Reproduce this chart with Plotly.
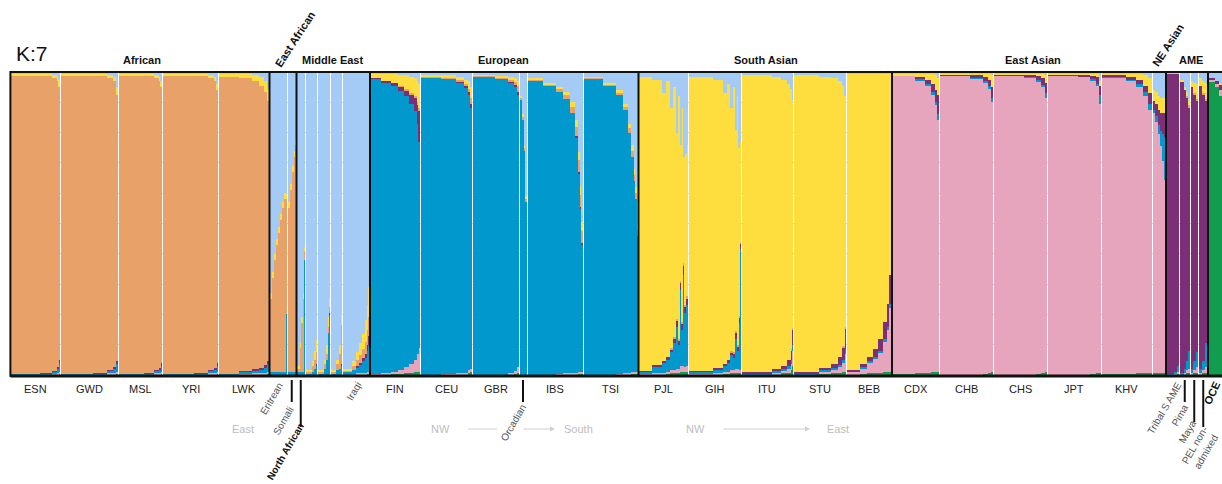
import plotly.graph_objects as go

# ---------------- data ----------------
# component order (bottom -> top of each stacked column)
COMPONENTS = ["OCE", "East Asian", "European", "AME", "African", "South Asian", "Middle East"]
COLORS = ["#129c50", "#e7a4bd", "#0198cd", "#7c2e76", "#e9a16a", "#fedd3f", "#a4cbf6"]

# each row: (individuals, OCE, EastAsian, European, AME, African, SouthAsian, MiddleEast) in %
ESN = [(58, 0, 0, 0.3, 0, 98.7, 0.5, 0.5), (24, 0, 0, 0.5, 0.3, 98, 0.6, 0.6), (9, 0, 0.3, 0.8, 0.3, 96.6, 1, 1),
       (4, 0.3, 0.3, 1.5, 0.4, 94.5, 1.5, 1.5), (3, 0.5, 0.5, 3, 1, 90, 2.5, 2.5)]
GWD = [(64, 0, 0, 0.3, 0, 98.7, 0.5, 0.5), (28, 0, 0, 0.5, 0.3, 98, 0.6, 0.6), (12, 0.3, 0.3, 0.8, 0.3, 96.3, 1, 1),
       (6, 0.3, 0.3, 1.5, 0.4, 94.5, 1.5, 1.5), (4, 0.5, 0.5, 2.5, 1, 88, 2.5, 5)]
MSL = [(50, 0, 0, 0.3, 0, 98.7, 0.5, 0.5), (20, 0, 0, 0.5, 0.3, 98, 0.6, 0.6), (9, 0.3, 0.3, 0.8, 0.3, 96.3, 1, 1),
       (4, 0.3, 0.3, 1.2, 0.4, 94.8, 1.5, 1.5), (3, 0.5, 0.5, 2, 1, 91, 2, 3)]
YRI = [(62, 0, 0, 0.3, 0, 98.7, 0.5, 0.5), (27, 0, 0, 0.5, 0.3, 98, 0.6, 0.6), (12, 0.3, 0.3, 0.8, 0.3, 96.3, 1, 1),
       (6, 0.3, 0.3, 1.2, 0.4, 94.8, 1.5, 1.5), (3, 0.5, 0.5, 2, 1, 90, 2, 4)]
LWK = [(40, 0, 0, 0.3, 0, 98.2, 1, 0.5), (25, 0, 0.3, 0.7, 0.3, 96.7, 1.5, 0.5), (15, 0.3, 0.3, 1, 0.4, 95, 2, 1),
       (10, 0.3, 0.3, 1.3, 0.5, 93.1, 3, 1.5), (6, 0.3, 0.5, 1.8, 0.6, 90.3, 3.5, 3), (4, 0.5, 0.5, 2.5, 1, 86, 4, 5.5)]
ERITREAN = [(4, 0, 0, 1, 0, 24, 2, 73), (4, 0, 0, 1, 0, 31, 2, 66), (4, 0, 0, 1, 0, 37, 2, 60),
            (4, 0, 0, 1, 0, 42, 2, 55), (4, 0, 0, 1, 0, 46, 2, 51), (4, 0, 0, 1, 0, 50, 2, 47),
            (4, 0, 0, 1, 0, 54, 2, 43), (3, 0, 0, 1, 0, 57, 2, 40), (2, 0, 0, 20, 0, 38, 2, 40)]
SOMALI = [(4, 0, 0, 1, 0, 54, 2, 43), (4, 0, 0, 1, 0, 60, 2, 37), (4, 0, 0, 1, 0, 66, 2, 31),
          (3, 0, 0, 1, 0, 71, 2, 26), (2, 0, 0, 1, 0, 75, 2, 22)]
NORTH_AFRICAN = [(5, 0, 0, 1, 0, 1, 1, 97), (3, 0, 0, 1, 0, 8, 1.5, 89.5), (3, 0, 0, 1, 0, 16, 2, 81),
                 (2, 0, 0, 1, 0, 24, 2, 73), (1, 0, 0, 1, 0, 30, 2, 67), (1, 0, 0, 38, 0, 3, 1, 58)]
MIDEAST_2 = [(12, 0, 0, 0.5, 0, 0.5, 0.5, 98.5), (5, 0, 0, 1, 0, 2, 1.5, 95.5), (3, 0, 0, 2, 0, 3, 3, 92),
             (3, 0, 0, 3, 0.5, 4, 4, 88.5)]
MIDEAST_3 = [(11, 0, 0, 0.5, 0, 0.5, 0.5, 98.5), (5, 0, 0, 2, 0, 1.5, 1.5, 95), (3, 0, 0, 5, 0, 2, 3, 90),
             (2, 0, 0, 14, 0, 2, 3, 81), (1, 0, 0, 41, 0, 1, 2, 56), (1, 0, 0, 20, 0.5, 2, 3, 74.5)]
MIDEAST_4 = [(11, 0, 0, 0.5, 0, 0.5, 0.5, 98.5), (5, 0, 0, 1.5, 0, 2, 1.5, 95), (4, 0, 0, 2, 0, 5, 3, 90),
             (3, 0, 0, 3, 0.5, 13, 4, 79.5)]
IRAQI = [(18, 0, 0, 1, 0, 0.5, 0.5, 98), (8, 0, 0, 1.5, 0, 1.5, 1.5, 95.5), (6, 0, 0.5, 2, 0.5, 2, 2.5, 92.5),
         (6, 0, 0.5, 3, 0.5, 2.5, 4, 89.5), (5, 0, 0.5, 4, 1, 3, 5, 86.5), (4, 0, 0.5, 5, 1.5, 4, 7, 82),
         (3, 0.5, 0.5, 7, 2, 5, 8, 77), (3, 0.5, 0.5, 9, 3, 6, 10, 71)]
FIN = [(20, 0, 0.3, 97.4, 0.3, 0, 1.5, 0.5), (20, 0, 0.5, 96, 0.5, 0, 2.5, 0.5), (15, 0.3, 0.7, 94.5, 1, 0, 3, 0.5),
       (12, 0.3, 1.5, 92, 1.5, 0.2, 3.5, 1), (10, 0.5, 2, 89.5, 2, 0.5, 4.5, 1), (9, 0.5, 3, 86, 3, 0.5, 5.5, 1.5),
       (6, 1, 4, 82, 4.5, 0.5, 6, 2), (4, 1, 6, 76, 6, 1, 7, 3), (3, 1, 8, 68, 10, 1, 8, 4)]
CEU = [(40, 0, 0, 98.2, 0, 0.3, 0.5, 1), (30, 0, 0.3, 97.4, 0, 0.3, 1, 1), (16, 0, 0.5, 96, 0.3, 0.5, 1.2, 1.5),
       (8, 0.3, 0.5, 94.2, 0.5, 0.5, 1.5, 2.5), (4, 0.5, 1, 91, 1, 1, 2.5, 3), (3, 1, 1, 86, 1.5, 2, 3.5, 5)]
GBR = [(45, 0, 0, 98.4, 0, 0.3, 0.3, 1), (25, 0, 0, 97.7, 0.3, 0.3, 0.5, 1.2), (12, 0, 0.5, 96, 0.3, 0.7, 1, 1.5),
       (6, 0.3, 1, 94, 0.5, 1, 1.2, 2), (4, 0.5, 2, 90, 1, 2, 1.5, 3)]
ORCADIAN = [(6, 0, 0, 91, 0, 0.5, 0.5, 8), (3, 0, 0, 84, 0, 1, 1, 14), (3, 0, 0, 74, 0, 1, 1, 24),
            (2, 0, 0, 57, 0, 1, 1, 41)]
IBS = [(31, 0, 0, 97.3, 0, 0.3, 0.4, 2), (26, 0, 0, 95.5, 0, 0.5, 0.5, 3.5), (14, 0, 0.3, 93.2, 0, 1, 0.5, 5),
       (14, 0, 0.5, 90.5, 0, 1.5, 1, 6.5), (10, 0.3, 0.5, 85.7, 0, 2, 1.5, 10), (6, 0.3, 0.5, 77.7, 0.5, 3, 2, 16),
       (5, 0.5, 0.5, 65.5, 0.5, 4, 2.5, 26.5), (2, 0.5, 0.5, 54, 0.5, 4, 3, 37.5), (2, 0.5, 0.5, 42, 0.5, 4, 3, 49.5)]
TSI = [(38, 0, 0, 98, 0, 0.3, 0.2, 1.5), (27, 0, 0, 95.5, 0, 0.5, 0.5, 3.5), (13, 0, 0.3, 92.2, 0, 0.5, 1, 6),
       (10, 0.3, 0.5, 86.7, 0, 1, 1, 10.5), (7, 0.3, 0.5, 79.2, 0, 1.5, 1.5, 17), (6, 0.5, 0.5, 71, 0, 2, 2, 24),
       (3, 0.5, 0.5, 63, 0, 2, 2, 32), (3, 0.5, 0.5, 57, 0, 2, 2, 38), (2, 0.5, 0.5, 45, 0, 2, 2, 50)]
PJL = [(26, 0, 0.3, 0.7, 0.3, 0, 97.2, 1.5), (20, 0.3, 0.5, 2, 0.5, 0, 94.2, 2.5), (8, 0.3, 0.5, 3, 0.7, 0, 88.5, 7),
       (8, 0.3, 0.7, 4, 1, 0, 91, 3), (6, 0.5, 1, 6, 1, 0.5, 79, 12), (6, 0.5, 1, 9, 1.5, 0.5, 82.5, 5),
       (4, 0.5, 1.5, 14, 2, 0.5, 61.5, 20), (4, 0.5, 1.5, 8, 1.5, 0.5, 80, 8), (3, 1, 2, 25, 2.5, 0.5, 45, 24),
       (3, 1, 2, 12, 2, 0.5, 70.5, 12), (3, 1, 2, 30, 3, 1, 35, 28), (2, 1, 1.5, 18, 2, 0.5, 59, 18),
       (2, 1, 2, 34, 3, 1, 32, 27), (2, 1, 2, 20, 2, 1, 50, 24)]
GIH = [(48, 0, 0.3, 0.7, 0.3, 0, 97.2, 1.5), (20, 0, 0.5, 1.2, 0.5, 0, 95.3, 2.5), (8, 0.3, 0.7, 2, 0.7, 0, 89.3, 7),
       (6, 0.3, 0.7, 3, 1, 0, 91, 4), (6, 0.5, 1, 5, 1, 0.5, 80, 12), (5, 0.5, 1, 4, 1.5, 0.5, 87.5, 5),
       (4, 0.5, 1.5, 10, 2, 0.5, 66.5, 19), (3, 0.5, 1.5, 6, 1.5, 0.5, 82, 8), (2, 0.5, 1.5, 15, 2, 0.5, 55.5, 25),
       (2, 0.5, 1, 40, 2, 0.5, 33, 23)]
ITU = [(60, 0, 0.3, 0.3, 0.3, 0, 98.1, 1), (19, 0.3, 0.5, 0.5, 0.7, 0, 96.5, 1.5), (12, 0.5, 0.7, 0.7, 1.2, 0, 94.4, 2.5),
       (7, 0.7, 1.2, 1, 2, 0, 91.1, 4), (3, 1.5, 2, 1.5, 3, 0.5, 86, 5.5), (2, 3, 5, 2, 5, 0.5, 75, 9.5)]
STU = [(50, 0, 0.3, 0.3, 0.3, 0, 98.1, 1), (24, 0.3, 0.7, 0.5, 0.7, 0, 96.3, 1.5), (14, 0.5, 1.2, 0.5, 1.5, 0, 94.3, 2),
       (8, 0.7, 2, 0.7, 2.5, 0, 91.1, 3), (5, 1, 3, 1, 4, 0.5, 86, 4.5), (3, 1, 6, 1.5, 7, 0.5, 76, 8)]
BEB = [(26, 0, 1, 0.3, 0.3, 0, 97.7, 0.7), (13, 0.3, 2, 0.5, 0.7, 0, 95.8, 0.7), (13, 0.5, 3.5, 0.5, 1.5, 0, 93.3, 0.7),
       (10, 0.5, 5, 0.5, 2.5, 0, 90.8, 0.7), (10, 0.5, 7, 0.5, 4, 0, 87.3, 0.7), (7, 1, 10, 1, 5.5, 0, 81.8, 0.7),
       (4, 1, 14, 1, 7.5, 0, 75.8, 0.7), (4, 1, 21, 1.5, 9.5, 0, 66.3, 0.7), (2, 1, 26, 2, 9, 0, 61.3, 0.7)]
CDX = [(45, 0.3, 98.4, 0, 0.3, 0, 0.5, 0.5), (20, 0.5, 96.8, 0.3, 0.7, 0, 1.2, 0.5), (12, 0.7, 94.8, 0.5, 1.5, 0, 2, 0.5),
       (8, 1, 91.5, 0.8, 2.7, 0, 3.5, 0.5), (5, 1, 88, 1.2, 4, 0, 4.8, 1), (3, 1, 83, 2, 6.5, 0, 5.5, 2)]
CHB = [(60, 0, 98.8, 0, 0.3, 0, 0.5, 0.4), (25, 0, 98, 0.3, 0.6, 0, 0.7, 0.4), (10, 0.3, 96.2, 0.5, 1.2, 0, 1.4, 0.4),
       (7, 0.5, 94, 0.8, 2, 0, 2.2, 0.5), (3, 1, 89, 1.5, 3.5, 0, 4, 1)]
CHS = [(60, 0, 99, 0, 0.3, 0, 0.3, 0.4), (25, 0, 98.3, 0.3, 0.6, 0, 0.4, 0.4), (10, 0.3, 96.6, 0.5, 1.2, 0, 1, 0.4),
       (8, 0.5, 94.5, 0.8, 2.2, 0, 1.5, 0.5), (3, 1, 90.5, 1.5, 3.5, 0, 2.5, 1)]
JPT = [(60, 0, 99, 0, 0.3, 0, 0.3, 0.4), (25, 0, 98.3, 0, 0.8, 0, 0.5, 0.4), (12, 0.3, 97, 0.3, 1.2, 0, 0.8, 0.4),
       (7, 0.8, 94.8, 0.5, 2.2, 0, 1.2, 0.5), (2, 0.5, 89, 3, 3, 0, 1.5, 3)]
KHV = [(48, 0.3, 98, 0.3, 0.3, 0, 0.7, 0.4), (20, 0.3, 96.8, 0.4, 0.8, 0, 1.3, 0.4), (14, 0.5, 94.7, 0.8, 1.3, 0, 2.2, 0.5),
       (10, 0.5, 91.5, 1.3, 2.2, 0, 3.5, 1), (8, 0.5, 87, 2, 3.5, 0, 5, 2)]
NE_ASIAN = [(5, 0.5, 86, 1, 3, 0, 3.5, 6), (5, 0.5, 83, 2, 4, 0, 4, 6.5), (5, 0.5, 79, 3, 5, 0, 4.5, 8),
            (4, 0.5, 75, 5, 6, 0, 5, 8.5), (4, 0.5, 70, 9, 7, 0, 5, 8.5), (3, 0.5, 64, 14, 8, 0, 5, 8.5)]
TRIBAL_S_AME = [(14, 0, 0, 0.3, 99, 0, 0, 0.7), (7, 0, 0.3, 0.7, 98.3, 0, 0, 0.7), (4, 0.3, 0.7, 2, 96.3, 0, 0, 0.7)]
PIMA = [(7, 0, 0, 0.5, 96.5, 0, 0.5, 2.5), (5, 0, 0.5, 1.5, 92, 0, 1, 5), (4, 0.5, 1, 3, 87, 0.5, 1.5, 6.5),
        (3, 0.5, 1.5, 6, 80, 1, 2, 9)]
MAYA = [(5, 0, 0.5, 1.5, 93, 0, 2, 3), (5, 0.5, 1, 3, 88, 0.5, 3.5, 3.5), (5, 0.5, 2, 5, 83, 0.5, 5, 4)]
PEL = [(6, 0, 0.5, 1.5, 93.5, 0, 2.5, 2), (6, 0.5, 1, 3, 88, 0.5, 4, 3), (5, 0.5, 2, 8, 80, 0.5, 5.5, 3.5)]
OCE = [(12, 97, 0.5, 0, 0.5, 0, 0, 2), (8, 95, 1, 0, 1, 0, 0, 3), (6, 92, 2, 0, 2, 0, 0.5, 3.5),
       (4, 85, 4, 0.5, 4, 0, 1, 5.5)]

GROUP_NAMES = ["African", "East African", "Middle East", "European", "South Asian", "East Asian", "AME", "OCE"]
GROUP_POPS = [
    [("ESN", ESN), ("GWD", GWD), ("MSL", MSL), ("YRI", YRI), ("LWK", LWK)],
    [("Eritrean", ERITREAN), ("Somali", SOMALI)],
    [("North African", NORTH_AFRICAN), ("ME2", MIDEAST_2), ("ME3", MIDEAST_3), ("ME4", MIDEAST_4), ("Iraqi", IRAQI)],
    [("FIN", FIN), ("CEU", CEU), ("GBR", GBR), ("Orcadian", ORCADIAN), ("IBS", IBS), ("TSI", TSI)],
    [("PJL", PJL), ("GIH", GIH), ("ITU", ITU), ("STU", STU), ("BEB", BEB)],
    [("CDX", CDX), ("CHB", CHB), ("CHS", CHS), ("JPT", JPT), ("KHV", KHV), ("NE Asian", NE_ASIAN)],
    [("Tribal S AME", TRIBAL_S_AME), ("Pima", PIMA), ("Maya", MAYA), ("PEL", PEL)],
    [("OCE", OCE)],
]
PLAIN_LABELS = ["ESN", "GWD", "MSL", "YRI", "LWK", "FIN", "CEU", "GBR", "IBS", "TSI",
                "PJL", "GIH", "ITU", "STU", "BEB", "CDX", "CHB", "CHS", "JPT", "KHV"]

# ---------------- layout of columns ----------------
GAP = 2
xs, ws = [], []
vals = [[] for _ in COMPONENTS]
pop_center = {}
sep_x = []
cur = 0.0
for gi, pops in enumerate(GROUP_POPS):
    for pi, (name, segs) in enumerate(pops):
        p0 = cur
        for seg in segs:
            n = seg[0]
            comps = seg[1:]
            tot = float(sum(comps))
            xs.append(cur + n / 2.0)
            ws.append(n)
            for k, v in enumerate(comps):
                vals[k].append(v / tot)
            cur += n
        pop_center[name] = (p0 + cur) / 2.0
        if not (gi == len(GROUP_POPS) - 1 and pi == len(pops) - 1):
            cur += GAP
    if gi < len(GROUP_POPS) - 1:
        sep_x.append(cur - GAP / 2.0)

W, H = 1222, 484
L, T, B = 11, 72, 375
XMAX = (W - L) * 2.0


def py(ypx):
    return (B - ypx) / float(B - T)


def px2x(xpx):
    return (xpx - L) * 2.0


fig = go.Figure()
for k, name in enumerate(COMPONENTS):
    fig.add_trace(go.Bar(x=xs, y=vals[k], width=ws, name=name,
                         marker=dict(color=COLORS[k], line=dict(width=0)),
                         hoverinfo="skip", showlegend=False))

shapes = []
# frame
shapes.append(dict(type="line", xref="paper", yref="paper", x0=-0.0005, x1=1.01, y0=1, y1=1,
                   line=dict(color="#111", width=2)))
shapes.append(dict(type="line", xref="paper", yref="paper", x0=-0.0005, x1=1.01, y0=-0.003, y1=-0.003,
                   line=dict(color="#111", width=3)))
shapes.append(dict(type="line", xref="paper", yref="paper", x0=-0.0005, x1=-0.0005, y0=-0.006, y1=1.003,
                   line=dict(color="#111", width=2)))
for sx in sep_x:
    shapes.append(dict(type="line", xref="x", yref="paper", x0=sx, x1=sx, y0=0, y1=1,
                       line=dict(color="#111", width=2)))
# leader ticks below chart
for name, yend in [("Somali", 402), ("North African", 427), ("Orcadian", 402),
                   ("Pima", 402), ("Maya", 422), ("PEL", 427)]:
    cx = pop_center[name]
    shapes.append(dict(type="line", xref="x", yref="paper", x0=cx, x1=cx, y0=py(380), y1=py(yend),
                       line=dict(color="#111", width=2)))
# gray direction line (no head)
shapes.append(dict(type="line", xref="x", yref="paper", x0=px2x(468), x1=px2x(497), y0=py(429), y1=py(429),
                   line=dict(color="#d0d0d0", width=1)))

ann = []
FONT = "Liberation Sans, Arial, Helvetica, sans-serif"
ann.append(dict(text="K:7", xref="paper", yref="paper", x=3 / 1211.0, y=py(54), xanchor="left", yanchor="middle",
                showarrow=False, font=dict(size=21, color="#111", family=FONT)))
# top group labels
for text, xpx in [("African", 142), ("Middle East", 332), ("European", 503), ("South Asian", 766),
                  ("East Asian", 1033), ("AME", 1191)]:
    ann.append(dict(text="<b>%s</b>" % text, xref="x", yref="paper", x=px2x(xpx), y=py(60),
                    xanchor="center", yanchor="middle", showarrow=False,
                    font=dict(size=11, color="#111", family=FONT)))
for text, xpx, ypx in [("East African", 295, 39), ("NE Asian", 1168, 45)]:
    ann.append(dict(text="<b>%s</b>" % text, xref="x", yref="paper", x=px2x(xpx), y=py(ypx),
                    xanchor="center", yanchor="middle", showarrow=False, textangle=-57,
                    font=dict(size=11, color="#111", family=FONT)))
# population labels
for name in PLAIN_LABELS:
    ann.append(dict(text=name, xref="x", yref="paper", x=pop_center[name], y=py(389),
                    xanchor="center", yanchor="middle", showarrow=False,
                    font=dict(size=11, color="#222", family=FONT)))
# rotated small labels
for text, xpx, ypx in [("Eritrean", 271.5, 398.5), ("Somali", 283.5, 420.5), ("Iraqi", 354, 392),
                       ("Orcadian", 513.5, 422.5), ("Tribal S AME", 1164, 408), ("Pima", 1179.5, 415),
                       ("Maya", 1187.5, 431.5), ("PEL non-<br>admixed", 1200, 449)]:
    ann.append(dict(text=text, xref="x", yref="paper", x=px2x(xpx), y=py(ypx),
                    xanchor="center", yanchor="middle", showarrow=False, textangle=-60,
                    font=dict(size=10, color="#555", family=FONT)))
ann.append(dict(text="<b>North African</b>", xref="x", yref="paper", x=px2x(285), y=py(451),
                xanchor="center", yanchor="middle", showarrow=False, textangle=-60,
                font=dict(size=10, color="#111", family=FONT)))
ann.append(dict(text="<b>OCE</b>", xref="x", yref="paper", x=px2x(1212), y=py(393),
                xanchor="center", yanchor="middle", showarrow=False, textangle=-65,
                font=dict(size=11, color="#111", family=FONT)))
# gray direction words
for text, xpx in [("East", 243), ("NW", 440), ("South", 578), ("NW", 695), ("East", 838)]:
    ann.append(dict(text=text, xref="x", yref="paper", x=px2x(xpx), y=py(429),
                    xanchor="center", yanchor="middle", showarrow=False,
                    font=dict(size=11, color="#bdbdbd", family=FONT)))
# gray arrows
for x0, x1 in [(522, 555), (722, 810)]:
    ann.append(dict(text="", xref="x", yref="paper", x=px2x(x1), y=py(429),
                    ax=-(x1 - x0), ay=0, axref="pixel", ayref="pixel",
                    showarrow=True, arrowhead=2, arrowsize=1, arrowwidth=1, arrowcolor="#cfcfcf"))

fig.update_layout(
    width=W, height=H,
    margin=dict(l=L, r=0, t=T, b=H - B, pad=0),
    paper_bgcolor="white", plot_bgcolor="white",
    barmode="stack", bargap=0,
    showlegend=False,
    shapes=shapes, annotations=ann,
    xaxis=dict(range=[0, XMAX], showgrid=False, zeroline=False, showticklabels=False, ticks="",
               showline=False, fixedrange=True),
    yaxis=dict(range=[0, 1], showgrid=True, gridcolor="rgba(0,0,0,0.18)", gridwidth=1, dtick=0.1,
               zeroline=False, showticklabels=False, ticks="", showline=False, fixedrange=True),
    font=dict(family=FONT),
)
fig.write_html("out.html", config={"displayModeBar": False})
